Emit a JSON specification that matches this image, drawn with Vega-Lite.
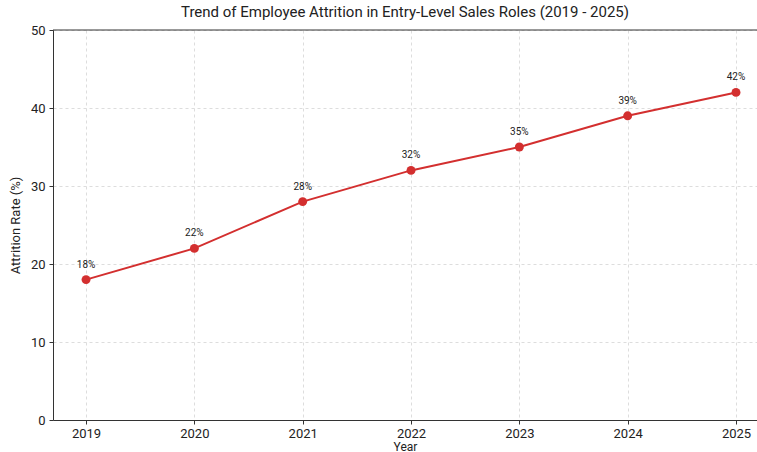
{
  "$schema": "https://vega.github.io/schema/vega-lite/v6.json",
  "autosize": {"type": "none"},
  "width": 704,
  "height": 390,
  "padding": {"left": 53, "top": 30, "right": 0, "bottom": 32},
  "background": "white",
  "config": {
    "font": "Roboto",
    "view": {"stroke": null},
    "axis": {
      "labelFont": "Roboto",
      "titleFont": "Roboto",
      "labelColor": "#222",
      "titleColor": "#222",
      "labelFontSize": 13,
      "titleFontSize": 13,
      "titleFontWeight": "normal",
      "domainColor": "#333",
      "tickColor": "#333",
      "gridColor": "#d4d4d4",
      "gridDash": [3, 3],
      "gridWidth": 0.8
    }
  },
  "title": {
    "text": "Trend of Employee Attrition in Entry-Level Sales Roles (2019 - 2025)",
    "fontSize": 15,
    "fontWeight": "normal",
    "font": "Roboto",
    "color": "#222",
    "anchor": "middle",
    "offset": 4
  },
  "data": {
    "values": [
      {"year": 2019, "rate": 18, "label": "18%"},
      {"year": 2020, "rate": 22, "label": "22%"},
      {"year": 2021, "rate": 28, "label": "28%"},
      {"year": 2022, "rate": 32, "label": "32%"},
      {"year": 2023, "rate": 35, "label": "35%"},
      {"year": 2024, "rate": 39, "label": "39%"},
      {"year": 2025, "rate": 42, "label": "42%"}
    ]
  },
  "encoding": {
    "x": {
      "field": "year",
      "type": "quantitative",
      "scale": {"domain": [2018.695, 2025.194], "nice": false, "zero": false},
      "axis": {
        "title": "Year",
        "values": [2019, 2020, 2021, 2022, 2023, 2024, 2025],
        "format": "d",
        "tickSize": 4,
        "labelPadding": 3,
        "titlePadding": 1,
        "titleFontSize": 12,
        "grid": true
      }
    },
    "y": {
      "field": "rate",
      "type": "quantitative",
      "scale": {"domain": [0, 50], "nice": false},
      "axis": {
        "title": "Attrition Rate (%)",
        "values": [0, 10, 20, 30, 40, 50],
        "tickSize": 4,
        "labelPadding": 4,
        "titlePadding": 8,
        "grid": true
      }
    }
  },
  "layer": [
    {
      "mark": {"type": "line", "color": "#d32f2f", "strokeWidth": 2}
    },
    {
      "mark": {"type": "point", "filled": true, "color": "#d32f2f", "size": 80, "opacity": 1}
    },
    {
      "mark": {"type": "text", "dy": -15, "fontSize": 10, "color": "#222", "font": "Roboto"},
      "encoding": {"text": {"field": "label"}}
    },
    {
      "mark": {"type": "rule", "color": "#333", "strokeWidth": 1},
      "data": {"values": [{"top": 50}]},
      "encoding": {"y": {"field": "top", "type": "quantitative"}, "x": null}
    }
  ]
}
